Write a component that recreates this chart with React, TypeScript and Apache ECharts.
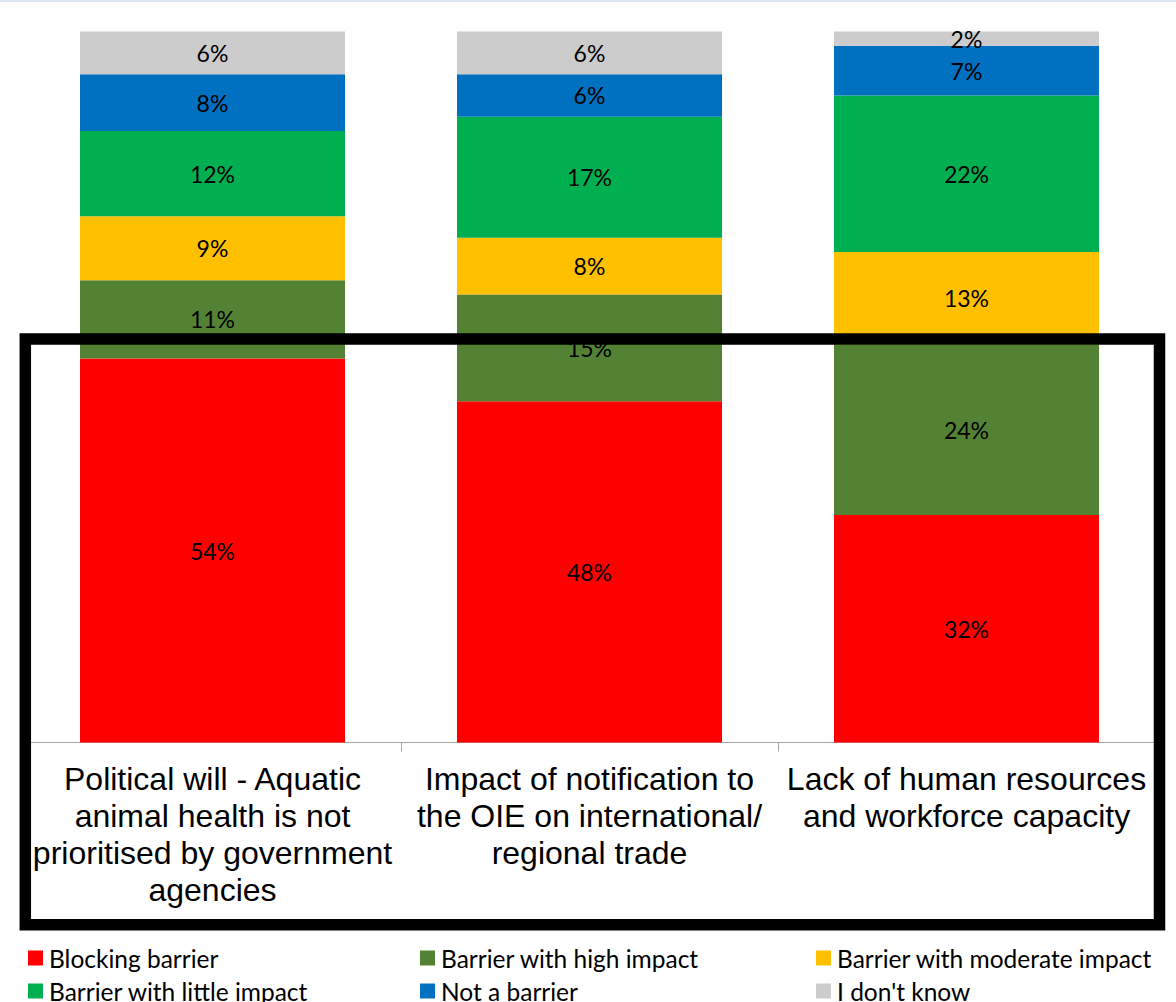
import React, { useEffect, useRef } from "react";
import * as echarts from "echarts";

const categories = [
  "Political will - Aquatic\nanimal health is not\nprioritised by government\nagencies",
  "Impact of notification to\nthe OIE on international/\nregional trade",
  "Lack of human resources\nand workforce capacity",
];
const seriesNames = [
  "Blocking barrier",
  "Barrier with high impact",
  "Barrier with moderate impact",
  "Barrier with little impact",
  "Not a barrier",
  "I don't know",
];
const blocking = [54, 48, 32];
const highImpact = [11, 15, 24];
const moderateImpact = [9, 8, 13];
const littleImpact = [12, 17, 22];
const notBarrier = [8, 6, 7];
const dontKnow = [6, 6, 2];
const seriesValues = [blocking, highImpact, moderateImpact, littleImpact, notBarrier, dontKnow];
const colors = ["#ff0000", "#548235", "#ffc000", "#00b050", "#0070c0", "#cccccc"];

const legendPos = [
  { left: 28, top: 945 },
  { left: 420, top: 945 },
  { left: 816, top: 945 },
  { left: 28, top: 978 },
  { left: 420, top: 978 },
  { left: 816, top: 978 },
];

export default function App() {
  const ref = useRef<HTMLDivElement>(null);
  useEffect(() => {
    if (!ref.current) return;
    const chart = echarts.init(ref.current, null, { renderer: "svg" });
    chart.setOption({
      animation: false,
      backgroundColor: "#ffffff",
      grid: { left: 24, right: 21, top: 31.5, bottom: 259.5, containLabel: false },
      xAxis: {
        type: "category",
        data: categories,
        axisLine: { lineStyle: { color: "#a6a6a6", width: 1 } },
        axisTick: { show: true, length: 9, lineStyle: { color: "#a6a6a6" } },
        axisLabel: {
          interval: 0,
          margin: 18,
          fontFamily: "Liberation Sans, Arial",
          fontSize: 32,
          lineHeight: 37,
          color: "#000",
          align: "center",
        },
      },
      yAxis: {
        type: "value",
        min: 0,
        max: 100,
        show: false,
        splitLine: { show: false },
      },
      legend: seriesNames.map((n, i) => ({
        data: [n],
        left: legendPos[i].left,
        top: legendPos[i].top,
        icon: "rect",
        itemWidth: 15,
        itemHeight: 15,
        itemGap: 0,
        padding: 0,
        selectedMode: false,
        textStyle: { fontFamily: "Lato", fontSize: 24.5, color: "#000", lineHeight: 26, padding: [0, 0, 0, 1] },
      })),
      series: seriesNames.map((n, i) => ({
        name: n,
        type: "bar",
        stack: "total",
        data: seriesValues[i],
        barWidth: "70.3%",
        itemStyle: { color: colors[i] },
        label: {
          show: true,
          position: "inside",
          formatter: "{c}%",
          fontFamily: "Lato",
          fontSize: 23,
          color: "#000",
        },
        labelLayout: { hideOverlap: false },
      })),
      graphic: [
        {
          type: "rect",
          z: 100,
          shape: { x: 0, y: 0, width: 1176, height: 2 },
          style: { fill: "#dce6f2" },
        },
        {
          type: "rect",
          z: 100,
          shape: { x: 25.3, y: 339, width: 1134.2, height: 585.7 },
          style: { fill: "none", stroke: "#000", lineWidth: 11.5 },
        },
      ],
    });
    return () => chart.dispose();
  }, []);
  return <div ref={ref} style={{ width: 1176, height: 1002, position: "absolute", left: 0, top: 0 }} />;
}
